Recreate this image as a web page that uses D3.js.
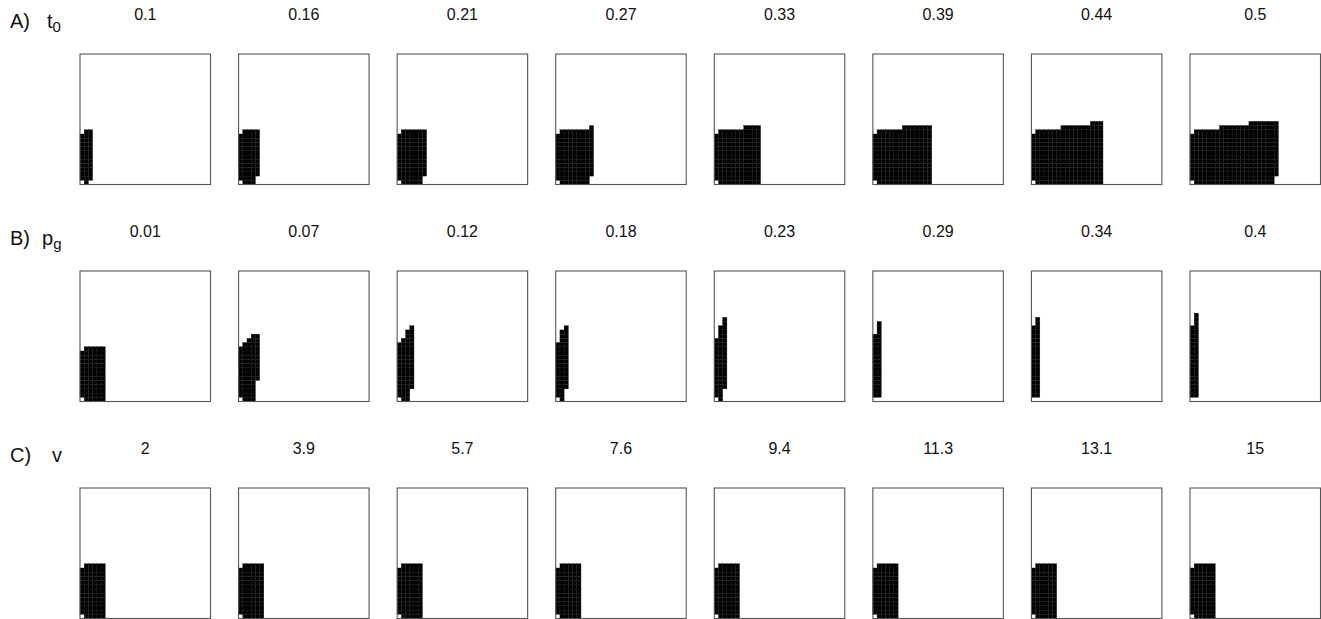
<!DOCTYPE html>
<html>
<head>
<meta charset="utf-8">
<script src="https://cdn.jsdelivr.net/npm/d3@7"></script>
<style>
  body { margin: 0; background: #fff; }
  text { font-family: "Liberation Sans", Arial, sans-serif; fill: #111; }
</style>
</head>
<body>
<div id="chart"></div>
<script>
// panel titles (parameter value shown above each panel)
const t0Values = [0.1, 0.16, 0.21, 0.27, 0.33, 0.39, 0.44, 0.5];
const pgValues = [0.01, 0.07, 0.12, 0.18, 0.23, 0.29, 0.34, 0.4];
const vValues = [2, 3.9, 5.7, 7.6, 9.4, 11.3, 13.1, 15];

const rowLetters = ["A)", "B)", "C)"];
const paramBase = ["t", "p", "v"];
const paramSub = ["0", "g", ""];

// occupied cells, per panel: top (exclusive) and bottom row of each column
const t0Tops = [
  [12, 13, 13],
  [12, 13, 13, 13, 13],
  [12, 13, 13, 13, 13, 13, 13],
  [12, 13, 13, 13, 13, 13, 13, 13, 14],
  [12, 13, 13, 13, 13, 13, 13, 14, 14, 14, 14],
  [12, 13, 13, 13, 13, 13, 13, 14, 14, 14, 14, 14, 14, 14],
  [12, 13, 13, 13, 13, 13, 13, 14, 14, 14, 14, 14, 14, 14, 15, 15, 15],
  [12, 13, 13, 13, 13, 13, 13, 14, 14, 14, 14, 14, 14, 14, 15, 15, 15, 15, 15, 15, 15]
];
const t0Bottoms = [
  [1, 0, 1],
  [1, 0, 0, 0, 2],
  [1, 0, 0, 0, 0, 0, 2],
  [1, 0, 0, 0, 0, 0, 0, 0, 2],
  [1, 0, 0, 0, 0, 0, 0, 0, 0, 0, 0],
  [1, 0, 0, 0, 0, 0, 0, 0, 0, 0, 0, 0, 0, 0],
  [1, 0, 0, 0, 0, 0, 0, 0, 0, 0, 0, 0, 0, 0, 0, 0, 0],
  [1, 0, 0, 0, 0, 0, 0, 0, 0, 0, 0, 0, 0, 0, 0, 0, 0, 0, 0, 0, 2]
];

const pgTops = [
  [12, 13, 13, 13, 13, 13],
  [13, 14, 15, 16, 16],
  [14, 15, 17, 18],
  [14, 17, 18],
  [15, 18, 20],
  [16, 19],
  [18, 20],
  [18, 21]
];
const pgBottoms = [
  [1, 0, 0, 0, 0, 0],
  [1, 0, 0, 0, 5],
  [1, 0, 0, 3],
  [1, 0, 3],
  [1, 0, 3],
  [1, 1],
  [1, 1],
  [1, 1]
];

const vTops = [
  [12, 13, 13, 13, 13, 13],
  [12, 13, 13, 13, 13, 13],
  [12, 13, 13, 13, 13, 13],
  [12, 13, 13, 13, 13, 13],
  [12, 13, 13, 13, 13, 13],
  [12, 13, 13, 13, 13, 13],
  [12, 13, 13, 13, 13, 13],
  [12, 13, 13, 13, 13, 13]
];
const vBottoms = [
  [1, 0, 0, 0, 0, 0],
  [1, 0, 0, 0, 0, 0],
  [1, 0, 0, 0, 0, 0],
  [1, 0, 0, 0, 0, 0],
  [1, 0, 0, 0, 0, 0],
  [1, 0, 0, 0, 0, 0],
  [1, 0, 0, 0, 0, 0],
  [1, 0, 0, 0, 0, 0]
];

const gridN = 31;

const width = 1321;
const height = 619;
const panelSize = 130.5;

const rows = [
  { values: t0Values, tops: t0Tops, bottoms: t0Bottoms },
  { values: pgValues, tops: pgTops, bottoms: pgBottoms },
  { values: vValues, tops: vTops, bottoms: vBottoms }
];

const svg = d3
  .select("#chart")
  .append("svg")
  .attr("width", width)
  .attr("height", height);

svg.append("rect").attr("width", width).attr("height", height).attr("fill", "#fff");

const panelX = d3.scaleLinear().domain([0, 7]).range([80, 1190]);
const rowY = d3.scaleLinear().domain([0, 2]).range([54, 488]);

const x = d3.scaleLinear().domain([0, gridN]).range([0, panelSize]);
const y = d3.scaleLinear().domain([0, gridN]).range([panelSize, 0]);

rows.forEach((row, r) => {
  const top = rowY(r);

  // row label, e.g. "A)  t0"
  svg
    .append("text")
    .attr("x", 10)
    .attr("y", top - 26)
    .style("font-size", "20px")
    .text(rowLetters[r]);

  const param = svg
    .append("text")
    .attr("x", [47, 42, 52][r])
    .attr("y", top - 26)
    .style("font-size", "20px")
    .text(paramBase[r]);
  if (paramSub[r]) {
    param
      .append("tspan")
      .attr("dy", 4)
      .style("font-size", "15px")
      .text(paramSub[r]);
  }

  row.values.forEach((val, p) => {
    const g = svg
      .append("g")
      .attr("transform", `translate(${panelX(p)},${top})`);

    svg
      .append("text")
      .attr("x", panelX(p) + panelSize / 2)
      .attr("y", top - 34)
      .attr("text-anchor", "middle")
      .style("font-size", "16px")
      .text(val);

    const cells = [];
    row.tops[p].forEach((t, i) => {
      for (let j = row.bottoms[p][i]; j < t; j++) cells.push({ i, j });
    });

    g.selectAll("rect.cell")
      .data(cells)
      .join("rect")
      .attr("class", "cell")
      .attr("x", (d) => x(d.i))
      .attr("y", (d) => y(d.j + 1))
      .attr("width", x(1) - x(0))
      .attr("height", y(0) - y(1))
      .attr("fill", "#000")
      .attr("stroke", "#1a1a1a")
      .attr("stroke-width", 0.35);

    g.append("rect")
      .attr("width", panelSize)
      .attr("height", panelSize)
      .attr("fill", "none")
      .attr("stroke", "#555")
      .attr("stroke-width", 1.1);
  });
});
</script>
</body>
</html>
